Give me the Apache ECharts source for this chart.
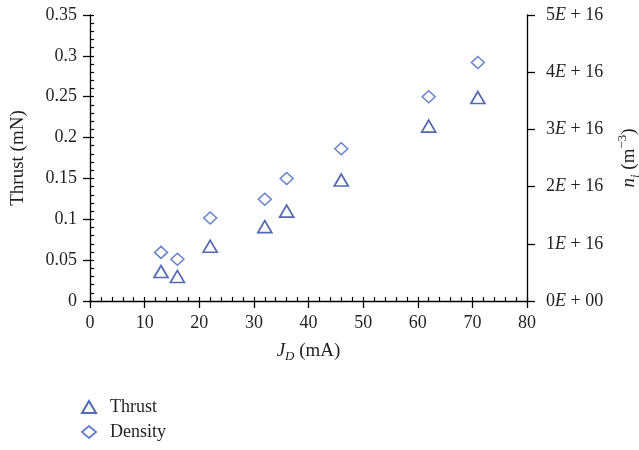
<!DOCTYPE html>
<html><head><meta charset="utf-8">
<script src="https://cdn.jsdelivr.net/npm/echarts@6/dist/echarts.min.js"></script>
<style>html,body{margin:0;padding:0;background:#fff}#c{width:639px;height:450px}</style>
</head><body><div id="c"></div>
<script>
var jd = [13, 16, 22, 32, 36, 46, 62, 71];
var thrust = [0.036, 0.030, 0.067, 0.091, 0.110, 0.148, 0.214, 0.249];
var density = [8.5e15, 7.3e15, 1.45e16, 1.78e16, 2.14e16, 2.66e16, 3.57e16, 4.17e16];
var seriesNames = ['Thrust', 'Density'];

var FONT = 'Liberation Serif';
var TXT = '#231f20';
var chart = echarts.init(document.getElementById('c'));
function pairs(xs, ys){ return xs.map(function(x,i){return [x, ys[i]];}); }
var lbl = {fontFamily: FONT, fontSize: 18, color: TXT};
chart.setOption({
  animation: false,
  grid: {left: 90, right: 112, top: 15, bottom: 149, containLabel: false, outerBoundsMode: 'none'},
  legend: {
    orient: 'vertical', left: 81, top: 398, bottom: 0, padding: 0, itemGap: 7, itemWidth: 14, itemHeight: 12,
    textStyle: {fontFamily: FONT, fontSize: 18, color: TXT, padding: [0, 0, 0, 9]},
    data: seriesNames
  },
  xAxis: [{
    type: 'value', min: 0, max: 80, interval: 10, position: 'bottom',
    axisLine: {lineStyle: {color: '#000', width: 1.3}},
    axisTick: {show: true, inside: false, length: 7, lineStyle: {color: '#000', width: 1.3}},
    splitLine: {show: false},
    axisLabel: Object.assign({margin: 13}, lbl),
    name: '{i|J}{s|D}{t| (mA)}', nameLocation: 'middle', nameGap: 38,
    nameTextStyle: {fontFamily: FONT, fontSize: 19, color: TXT, rich: {
      i: {fontFamily: FONT, fontStyle: 'italic', fontSize: 19, color: TXT, lineHeight: 24, verticalAlign: 'middle'},
      s: {fontFamily: FONT, fontStyle: 'italic', fontSize: 13, color: TXT, lineHeight: 24, verticalAlign: 'bottom'},
      t: {fontFamily: FONT, fontSize: 19, color: TXT, lineHeight: 24, verticalAlign: 'middle'}
    }}
  }, {
    type: 'value', min: 0, max: 80, interval: 2, position: 'bottom',
    axisLine: {show: false},
    axisTick: {show: true, inside: true, length: 4, lineStyle: {color: '#000', width: 1.2}},
    axisLabel: {show: false}, splitLine: {show: false}
  }],
  yAxis: [{
    type: 'value', min: 0, max: 0.35, interval: 0.05, position: 'left',
    axisLine: {show: true, lineStyle: {color: '#000', width: 1.3}},
    axisTick: {show: true, inside: false, length: 7, lineStyle: {color: '#000', width: 1.3}},
    splitLine: {show: false},
    axisLabel: Object.assign({margin: 13}, lbl),
    name: 'Thrust (mN)', nameLocation: 'middle', nameGap: 62, nameRotate: 90,
    nameTextStyle: {fontFamily: FONT, fontSize: 19, color: TXT}
  }, {
    type: 'value', min: 0, max: 5e16, interval: 1e16, position: 'right',
    axisLine: {show: true, onZero: false, lineStyle: {color: '#000', width: 1.3}},
    axisTick: {show: true, inside: false, length: 8, lineStyle: {color: '#000', width: 1.3}},
    splitLine: {show: false},
    axisLabel: Object.assign({margin: 19, formatter: function(v){
      var m = Math.round(v/1e16);
      return '{t|' + m + '}{i|E}{t| + ' + (m === 0 ? '00' : '16') + '}';
    }, rich: {
      t: {fontFamily: FONT, fontSize: 18, color: TXT},
      i: {fontFamily: FONT, fontSize: 18, fontStyle: 'italic', color: TXT}
    }}, lbl),
    name: '{i|n}{s|i}{t| (m}{p|−3}{t|)}', nameLocation: 'middle', nameGap: 89, nameRotate: 90,
    nameTextStyle: {fontFamily: FONT, fontSize: 19, color: TXT, rich: {
      i: {fontFamily: FONT, fontStyle: 'italic', fontSize: 19, color: TXT, lineHeight: 26, verticalAlign: 'middle'},
      s: {fontFamily: FONT, fontStyle: 'italic', fontSize: 13, color: TXT, lineHeight: 26, verticalAlign: 'bottom'},
      p: {fontFamily: FONT, fontSize: 13, color: TXT, lineHeight: 26, verticalAlign: 'top'},
      t: {fontFamily: FONT, fontSize: 19, color: TXT, lineHeight: 26, verticalAlign: 'middle'}
    }}
  }, {
    type: 'value', min: 0, max: 0.35, interval: 0.01, position: 'left',
    axisLine: {show: false},
    axisTick: {show: true, inside: true, length: 4, lineStyle: {color: '#000', width: 1.2}},
    axisLabel: {show: false}, splitLine: {show: false}
  }],
  series: [{
    name: seriesNames[0], type: 'scatter', xAxisIndex: 0, yAxisIndex: 0,
    symbol: 'triangle', symbolSize: [14, 12],
    itemStyle: {color: 'rgba(255,255,255,0)', borderColor: '#2a45a0', borderWidth: 1.7},
    data: pairs(jd, thrust)
  }, {
    name: seriesNames[1], type: 'scatter', xAxisIndex: 0, yAxisIndex: 1,
    symbol: 'diamond', symbolSize: [13, 12],
    itemStyle: {color: 'rgba(255,255,255,0)', borderColor: '#4264c2', borderWidth: 1.5},
    data: pairs(jd, density)
  }]
});
</script></body></html>
